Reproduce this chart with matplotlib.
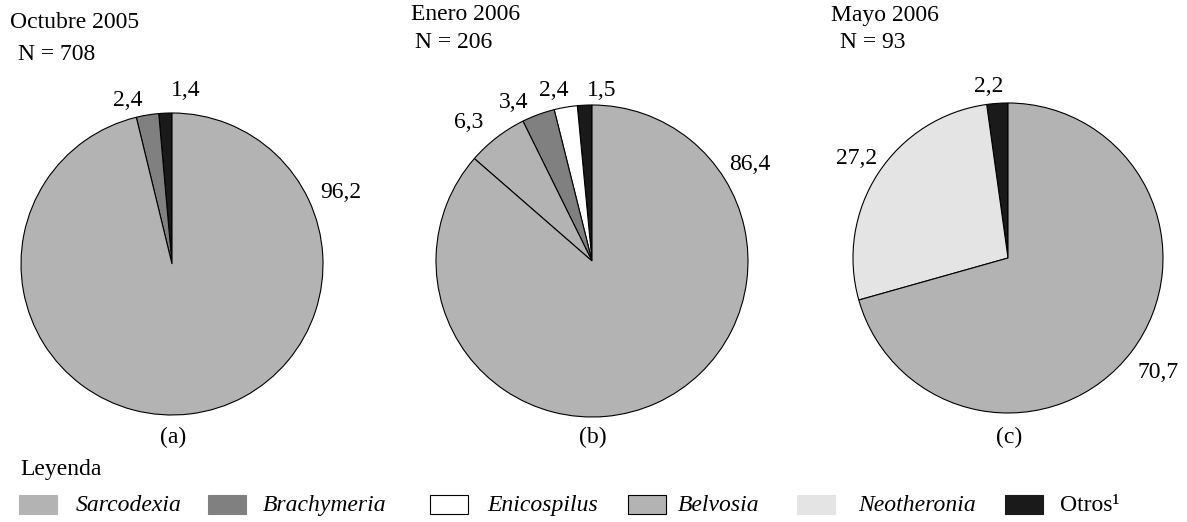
import matplotlib
matplotlib.use("Agg")
import matplotlib.pyplot as plt
from matplotlib.patches import Rectangle

plt.rcParams['font.family'] = ['Liberation Serif', 'DejaVu Serif']

W, H = 1187, 522

# data: wedges listed counterclockwise starting from 12 o'clock
fechas = ["Octubre 2005", "Enero 2006", "Mayo 2006"]
n_totales = [708, 206, 93]
paneles = ["(a)", "(b)", "(c)"]

grupos_a = ["Otros", "Brachymeria", "Sarcodexia"]
valores_a = [1.4, 2.4, 96.2]
grupos_b = ["Otros", "Enicospilus", "Brachymeria", "Belvosia", "Sarcodexia"]
valores_b = [1.5, 2.4, 3.4, 6.3, 86.4]
grupos_c = ["Otros", "Neotheronia", "Sarcodexia"]
valores_c = [2.2, 27.2, 70.7]

leyenda = ["Sarcodexia", "Brachymeria", "Enicospilus", "Belvosia", "Neotheronia", "Otros\u00b9"]
cursiva = [True, True, True, True, True, False]

colores = {
    "Sarcodexia": "#b3b3b3",
    "Brachymeria": "#808080",
    "Enicospilus": "#ffffff",
    "Belvosia": "#b3b3b3",
    "Neotheronia": "#e4e4e4",
    "Otros": "#1a1a1a",
}

# layout (pixels, y measured from the top)
centros = [(172, 264, 151), (592, 261, 156), (1008, 258, 155)]
pos_fecha = [(10, 22), (411, 15), (831, 16)]
pos_n = [(18, 55), (415, 42), (840, 42)]
pos_etq = [
    [(186, 91), (128, 100), (341, 192)],
    [(602, 90), (554, 91), (514, 102), (469, 123), (750, 164)],
    [(989, 87), (857, 159), (1158, 372)],
]
caja_x = [19, 208, 430, 628, 797, 1005]
texto_x = [76, 263, 487, 678, 858, 1060]

FS = 17

fig = plt.figure(figsize=(W / 100, H / 100), dpi=100)
ax = fig.add_axes([0, 0, 1, 1])

datos = [(grupos_a, valores_a), (grupos_b, valores_b), (grupos_c, valores_c)]
for i, (grupos, valores) in enumerate(datos):
    cx, cy, r = centros[i]
    ax.pie(valores, colors=[colores[g] for g in grupos], startangle=90,
           counterclock=True, center=(cx, H - cy), radius=r, frame=True,
           wedgeprops=dict(edgecolor="black", linewidth=0.8))
    for v, (tx, ty) in zip(valores, pos_etq[i]):
        ax.text(tx, H - ty, f"{v:.1f}".replace(".", ","), fontsize=FS,
                ha="center", va="center")
    ax.text(pos_fecha[i][0], H - pos_fecha[i][1], fechas[i], fontsize=FS,
            ha="left", va="center")
    ax.text(pos_n[i][0], H - pos_n[i][1], f"N = {n_totales[i]}", fontsize=FS,
            ha="left", va="center")
    ax.text(cx + 1, H - 437, paneles[i], fontsize=FS, ha="center", va="center")

ax.text(20, H - 469, "Leyenda", fontsize=FS, ha="left", va="center")
for nombre, ital, bx, tx in zip(leyenda, cursiva, caja_x, texto_x):
    clave = nombre.replace("\u00b9", "")
    borde = "black" if clave in ("Enicospilus", "Belvosia") else colores[clave]
    ax.add_patch(Rectangle((bx, H - 514), 38, 19, facecolor=colores[clave],
                           edgecolor=borde, linewidth=0.8))
    ax.text(tx, H - 511, nombre, fontsize=FS, ha="left", va="baseline",
            fontstyle="italic" if ital else "normal")

ax.set_xlim(0, W)
ax.set_ylim(0, H)
ax.set_aspect("auto")
ax.axis("off")

plt.savefig("out.png", dpi=100)
plt.close()
